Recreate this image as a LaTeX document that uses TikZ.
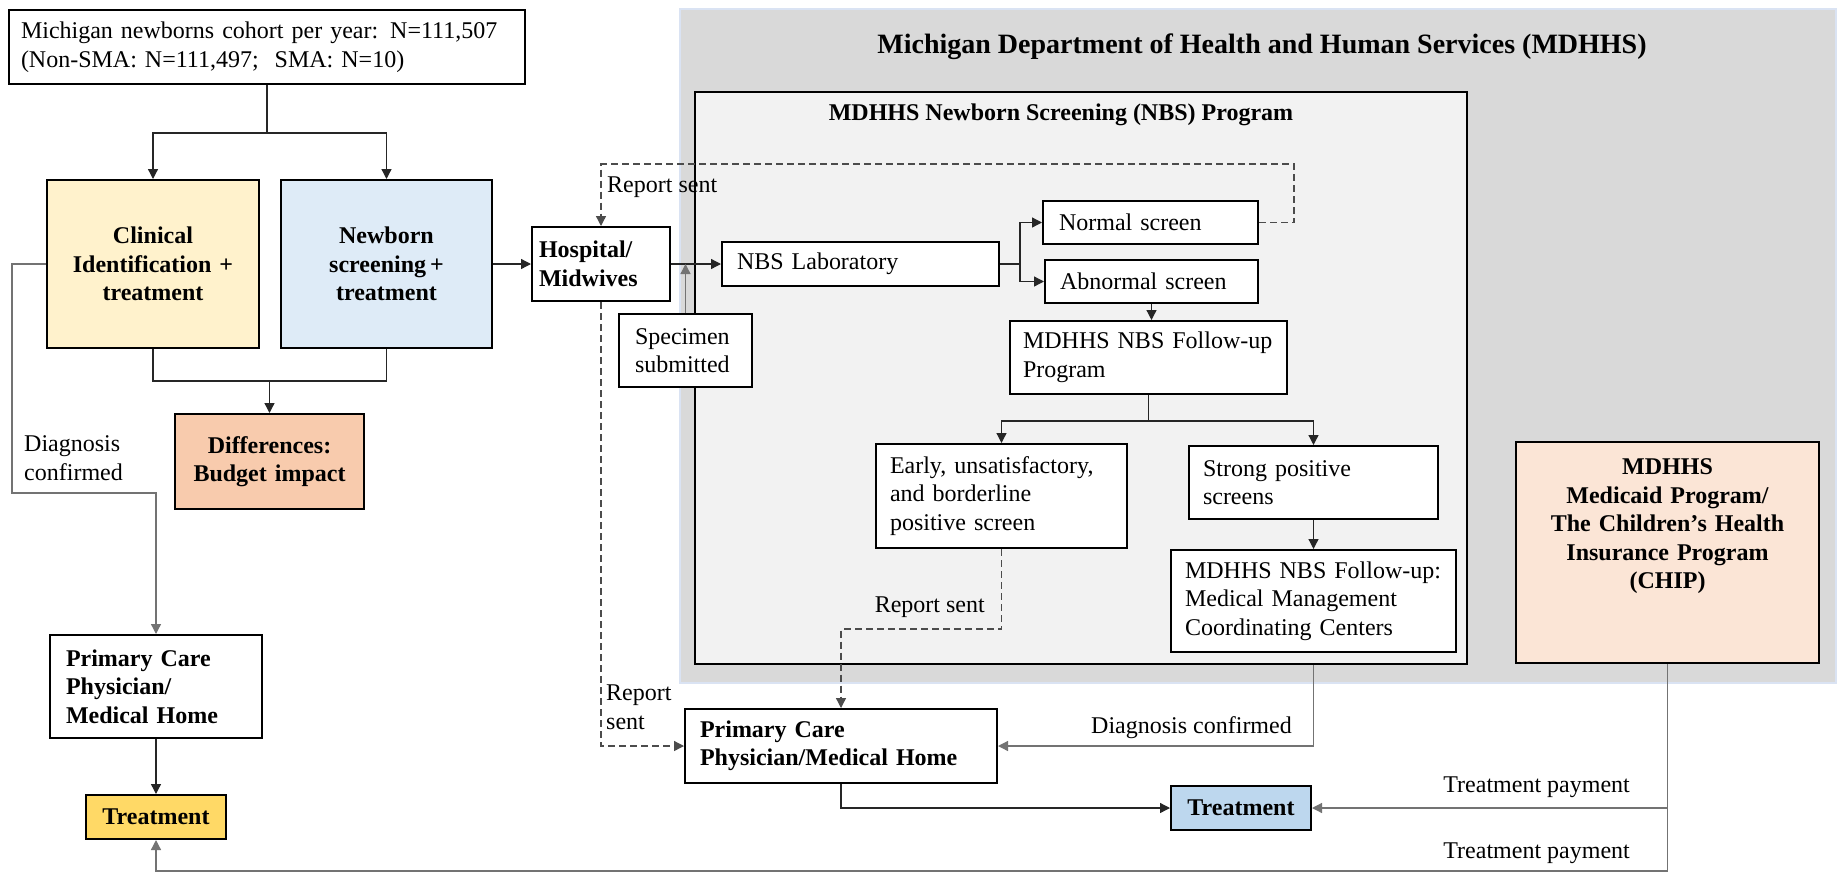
\documentclass[tikz,border=0pt]{standalone}
\usepackage{fontspec}
\setmainfont{Liberation Serif}
\usetikzlibrary{arrows.meta,positioning,calc}

\definecolor{clinfill}{HTML}{FFF2CC}
\definecolor{screenfill}{HTML}{DEEBF7}
\definecolor{difffill}{HTML}{F8CBAD}
\definecolor{treatyellow}{HTML}{FFD966}
\definecolor{treatblue}{HTML}{BDD7EE}
\definecolor{chipfill}{HTML}{FBE5D6}
\definecolor{deptgray}{HTML}{D9D9D9}
\definecolor{deptline}{HTML}{DAE3F3}
\definecolor{progfill}{HTML}{F2F2F2}

\begin{document}
\begin{tikzpicture}[
	x=1pt,y=-1pt,
	font=\fontsize{24}{28.5}\selectfont,
	box/.style={draw,line width=2pt,fill=white,inner ysep=0pt,align=left},
	boldleft/.style={box,font=\fontsize{24}{28.5}\selectfont\bfseries},
	boldbox/.style={box,font=\fontsize{24}{28.5}\selectfont\bfseries,align=center},
	conn/.style={line width=1.3pt,draw=black!85},
	arr/.style={conn,-{Triangle[length=10pt,width=10pt]}},
	grayarr/.style={arr,draw=black!55},
	dasharr/.style={arr,draw=black!70,dash pattern=on 7pt off 4pt},
	lbl/.style={inner sep=0pt,align=left}
	]
	\useasboundingbox (0,0) rectangle (1845,873);
	
	% MDHHS
	\node[draw=deptline,line width=1.5pt,fill=deptgray,minimum width=1156pt,minimum height=674pt,inner sep=0pt] (dept) at (1258,346) {};
	\node[draw,line width=2pt,fill=progfill,minimum width=772pt,minimum height=572pt,inner sep=0pt] (prog) at (1081,378) {};
	\node[font=\fontsize{28}{34}\selectfont\bfseries] (depttitle) at (1262,47) {Michigan Department of Health and Human Services (MDHHS)};
	\node[font=\fontsize{24}{28.5}\selectfont\bfseries] (progtitle) at (1061,115) {MDHHS\ Newborn Screening (NBS) Program};
	
	% Nodi
	\node[box,minimum width=516pt,minimum height=74pt,text width=492pt,inner xsep=12pt] (cohort) at (267,47) {Michigan newborns cohort per year: N=111,507\\(Non-SMA: N=111,497;\ \ SMA: N=10)};
	\node[boldbox,fill=clinfill,minimum width=212pt,minimum height=168pt,text width=200pt,inner xsep=6pt] (clinical) at (153,264) {Clinical\\Identification +\\treatment};
	\node[boldbox,fill=screenfill,minimum width=211pt,minimum height=168pt,text width=199pt,inner xsep=6pt,right=20pt of clinical] (newborn) {Newborn\\screening\,+\\treatment};
	\node[boldbox,fill=difffill,minimum width=189pt,minimum height=95pt,text width=177pt,inner xsep=6pt] (diff) at (269.5,461.5) {Differences:\\Budget impact};
	\node[boldleft,minimum width=212pt,minimum height=103pt,text width=180pt,inner xsep=16pt] (pcpL) at (156,686.5) {Primary Care\\Physician/\\Medical Home};
	\node[boldbox,fill=treatyellow,minimum width=140pt,minimum height=44pt,text width=128pt,inner xsep=6pt,below=55pt of pcpL] (treatL) {Treatment};
	
	\node[boldleft,minimum width=138pt,minimum height=74pt,text width=124pt,inner xsep=7pt,right=38pt of newborn] (hosp) {Hospital/\\Midwives};
	\node[box,minimum width=277pt,minimum height=44pt,text width=247pt,inner xsep=15pt,right=50pt of hosp] (lab) {NBS Laboratory};
	\node[box,minimum width=133pt,minimum height=73pt,text width=101pt,inner xsep=16pt] (specimen) at (685.5,350.5) {Specimen\\submitted};
	\node[box,minimum width=215pt,minimum height=43pt,text width=183pt,inner xsep=16pt] (normal) at (1150.5,222.5) {Normal screen};
	\node[box,minimum width=213pt,minimum height=43pt,text width=183pt,inner xsep=15pt] (abnormal) at (1151.5,281.5) {Abnormal screen};
	\node[box,minimum width=277pt,minimum height=73pt,text width=251pt,inner xsep=13pt] (followup) at (1148.5,357.5) {MDHHS NBS Follow-up\\Program};
	\node[box,minimum width=251pt,minimum height=104pt,text width=223pt,inner xsep=14pt] (early) at (1001.5,496) {Early, unsatisfactory,\\and borderline\\positive screen};
	\node[box,minimum width=249pt,minimum height=73pt,text width=221pt,inner xsep=14pt] (strong) at (1313.5,482.5) {Strong positive\\screens};
	\node[box,minimum width=285pt,minimum height=102pt,text width=257pt,inner xsep=14pt,below=29pt of strong] (medical) {MDHHS NBS Follow-up:\\Medical Management\\Coordinating Centers};
	\node[boldleft,minimum width=312pt,minimum height=74pt,text width=282pt,inner xsep=15pt] (pcpR) at (841,746) {Primary Care\\Physician/Medical Home};
	\node[boldbox,fill=treatblue,minimum width=140pt,minimum height=44pt,text width=128pt,inner xsep=6pt] (treatR) at (1241,808) {Treatment};
	\node[boldbox,fill=chipfill,minimum width=303pt,minimum height=221pt,text width=291pt,inner xsep=6pt] (chip) at (1667.5,552.5) {MDHHS\\Medicaid Program/\\The Children's Health\\Insurance Program\\(CHIP)\\\mbox{}\\\mbox{}};
	
	% Etichette
	\node[lbl,anchor=west] (sentTop) at (607,187) {Report sent};
	\node[lbl,anchor=west] (sentLeft) at (606,707.5) {Report\\sent};
	\node[lbl,anchor=east] (sentMid) at (985,607) {Report sent};
	\node[lbl,anchor=east] (diagRight) at (1292,728) {Diagnosis confirmed};
	\node[lbl,anchor=west] (diagLeft) at (24,458) {Diagnosis\\confirmed};
	\node[lbl,anchor=east] (payTop) at (1630,787) {Treatment payment};
	\node[lbl,anchor=east] (payBottom) at (1630,853) {Treatment payment};
	
	% Frecce
	\coordinate (split) at (267,133);
	\coordinate (join) at (269.5,381);
	\coordinate (diagbend) at (12,493);
	\coordinate (paybottom) at (1667.5,871);
	\coordinate (paysplit) at (1667.5,808);
	\coordinate (labsplit) at (1020,264);
	\coordinate (normalup) at (1294,164);
	\coordinate (fusplit) at (1148.5,421);
	\coordinate (earlybend) at (841,629);
	
	\draw[conn] (cohort.south) -- (split);
	\draw[arr] (split) -| (clinical.north);
	\draw[arr] (split) -| (newborn.north);
	\draw[conn] (clinical.south) |- (join) -| (newborn.south);
	\draw[arr] (join) -- (diff.north);
	\draw[arr] (newborn.east) -- (hosp.west);
	\draw[grayarr] (clinical.west) -| (diagbend) -| (pcpL.north);
	\draw[arr] (pcpL.south) -- (treatL.north);
	\draw[grayarr] (chip.south) -- (paybottom) -| (treatL.south);
	\draw[grayarr] (paysplit) -- (treatR.east);
	
	\draw[arr] (hosp.east) -- (lab.west);
	\draw[grayarr] (specimen.north) -- (specimen.north |- lab.west);
	\draw[conn] (lab.east) -- (labsplit);
	\draw[arr] (labsplit) |- (normal.west);
	\draw[arr] (labsplit) |- (abnormal.west);
	\draw[dasharr] (normal.east) -| (normalup) -| (hosp.north);
	\draw[arr] (abnormal.south) -- (abnormal.south |- followup.north);
	\draw[conn] (followup.south) -- (fusplit);
	\draw[arr] (fusplit) -| (early.north);
	\draw[arr] (fusplit) -| (strong.north);
	\draw[arr] (strong.south) -- (medical.north);
	\draw[dasharr] (early.south) |- (earlybend) -- (pcpR.north);
	\draw[dasharr] (hosp.south) |- (pcpR.west);
	\draw[grayarr] (medical.south |- prog.south) |- (pcpR.east);
	\draw[arr] (pcpR.south) |- (treatR.west);
	
\end{tikzpicture}
\end{document}
